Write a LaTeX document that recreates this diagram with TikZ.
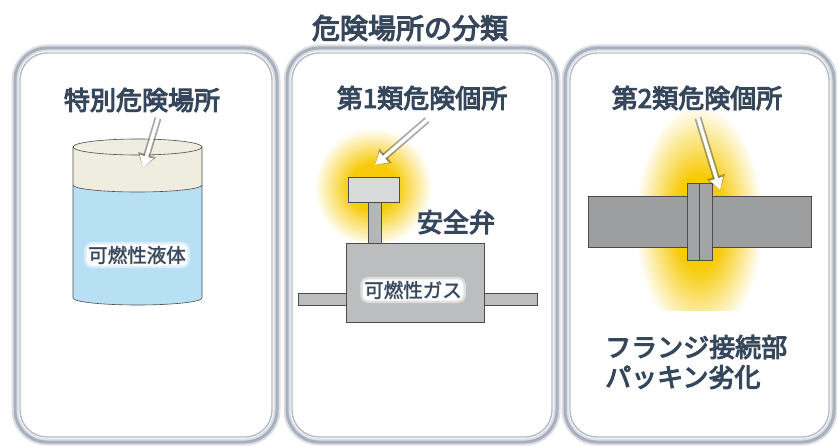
\documentclass[tikz,border=0pt]{standalone}
\usepackage{fontspec}
\usetikzlibrary{arrows.meta}

\newfontfamily\jpfont[FakeBold=4]{Noto Sans CJK JP}

\definecolor{inkblue}{HTML}{36475C}
\definecolor{frameline}{HTML}{A7B0BC}
\definecolor{framehalo}{HTML}{DCE0E6}
\definecolor{lidbeige}{HTML}{EEEDE0}
\definecolor{liquidblue}{HTML}{B8E0F5}
\definecolor{glowyellow}{HTML}{F7CB0A}
\definecolor{capgray}{HTML}{D9DADB}
\definecolor{stemgray}{HTML}{B5B6B7}
\definecolor{valvegray}{HTML}{BCBDBE}
\definecolor{pipegray}{HTML}{9D9E9F}
\definecolor{flangegray}{HTML}{A3A4A5}

% yellow glow: solid core that fades out to white (25bp = path radius)
\pgfdeclareradialshading{glowshade}{\pgfpoint{0bp}{0bp}}{color(0bp)=(glowyellow); color(5bp)=(glowyellow); color(12.5bp)=(white); color(50bp)=(white)}

\begin{document}
\begin{tikzpicture}[x=1pt, y=-1pt,
        title/.style={font=\jpfont\fontsize{28}{32}\selectfont, text=inkblue, inner sep=0pt},
        heading/.style={font=\jpfont\fontsize{26}{30}\selectfont, text=inkblue, inner sep=0pt},
        tag/.style={font=\jpfont\fontsize{19.5}{24}\selectfont, text=inkblue, inner sep=1.5pt,
            fill=white, rounded corners=5pt, draw=white, draw opacity=0.5, line width=5pt},
        part/.style={draw=black!70, line width=0.6pt},
        pointer/.style={white, line width=3.5pt, -{Triangle[length=12pt,width=13pt]},
            preaction={draw=black!75, draw opacity=0.45, line width=7pt, -{Triangle[length=14pt,width=18pt]}}}
    ]
        \useasboundingbox[fill=white] (0,0) rectangle (837,446);

        % Glows behind the leak points
        \shade[shading=glowshade] (373,187) circle (118);
        \begin{scope}
            \clip (600,100) rectangle (800,310);
            \shade[shading=glowshade] (699,222) ellipse [x radius=128, y radius=235];
        \end{scope}

        % Three framed panels
        \foreach \l/\r in {15/277, 287/557, 565/834} {
            \draw[framehalo, line width=7pt, rounded corners=32pt] (\l,48) rectangle (\r,442);
            \draw[frameline, line width=3pt, rounded corners=32pt] (\l,48) rectangle (\r,442);
            \draw[frameline!85, line width=1.4pt, rounded corners=27pt] (\l+5,53) rectangle (\r-5,437);
        }

        \node[title] (title) at (410,28) {危険場所の分類};

        % Panel 1: tank of liquid
        \fill[liquidblue] (73,185) -- (73,298) arc[start angle=180, end angle=0, x radius=64.5, y radius=7]
            -- (202,185) arc[start angle=0, end angle=180, x radius=64.5, y radius=7] -- cycle;
        \fill[lidbeige] (73,147) -- (73,185) arc[start angle=180, end angle=0, x radius=64.5, y radius=7]
            -- (202,147) arc[start angle=0, end angle=-180, x radius=64.5, y radius=8] -- cycle;
        \draw[part] (73,147) -- (73,298) arc[start angle=180, end angle=0, x radius=64.5, y radius=7] -- (202,147);
        \draw[part] (137.5,147) ellipse [x radius=64.5, y radius=8];
        \draw[part] (73,185) arc[start angle=180, end angle=0, x radius=64.5, y radius=7];

        \node[heading] (special) at (142,100) {特別危険場所};
        \node[tag] (liquid) at (137,255) {可燃性液体};
        \coordinate (special tip) at (143,168);
        \draw[pointer] (special.south) ++(16,6) coordinate (special tail) -- (special tip);

        % Panel 2: relief valve on a gas vessel
        \draw[part, fill=valvegray] (298,293) rectangle (346,305);
        \draw[part, fill=valvegray] (484,293) rectangle (537,305);
        \draw[part, fill=valvegray] (346,243) rectangle (484,322);
        \draw[part, fill=stemgray] (368,202) rectangle (381,243);
        \draw[part, fill=capgray] (348,177) rectangle (399,202);

        \node[heading] (zone1) at (422,98) {第1類危険個所};
        \node[heading] (valve) at (456,222) {安全弁};
        \node[tag] (gas) at (413,290) {可燃性ガス};
        \coordinate (zone1 tail) at (427,120);
        \coordinate (zone1 tip) at (375,165);
        \draw[pointer] (zone1 tail) -- (zone1 tip);

        % Panel 3: pipe flange
        \draw[part, fill=pipegray] (588,196) rectangle (811,247);
        \draw[part, fill=flangegray] (687,183) rectangle (699,260);
        \draw[part, fill=flangegray] (699,183) rectangle (712,260);

        \node[heading] (zone2) at (697,98) {第2類危険個所};
        \node[heading, anchor=west, align=left] (flange) at (605,362) {フランジ接続部\\パッキン劣化};
        \coordinate (zone2 tail) at (698,118);
        \coordinate (zone2 tip) at (720,190);
        \draw[pointer] (zone2 tail) -- (zone2 tip);

    \end{tikzpicture}
\end{document}
